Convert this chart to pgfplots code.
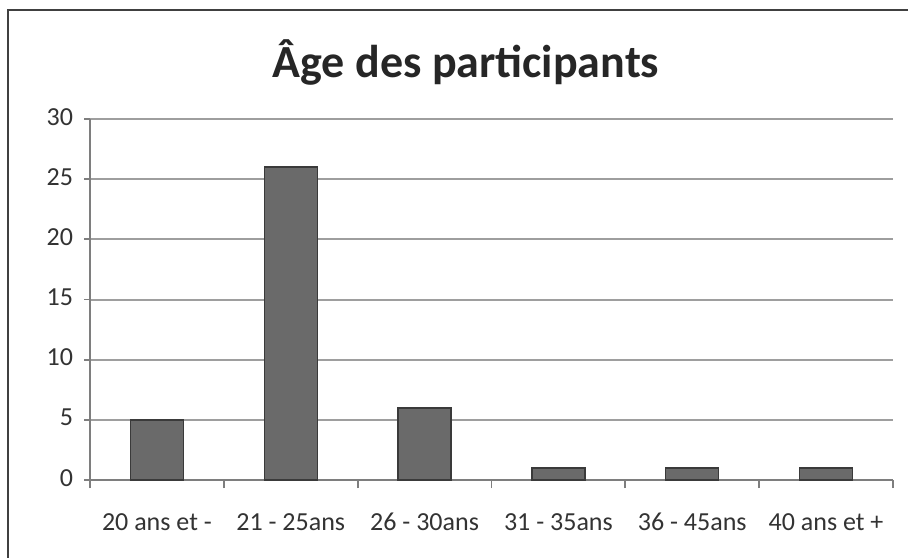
\documentclass[border=0pt]{standalone}
\usepackage{fontspec}
\setmainfont{Carlito}
\usepackage{pgfplots}
\pgfplotsset{compat=1.18}
\definecolor{barfill}{HTML}{6A6A6A}
\definecolor{bardraw}{HTML}{3A3A3A}
\definecolor{gridc}{HTML}{9E9E9E}
\definecolor{txt}{HTML}{333333}
\begin{document}
\begin{tikzpicture}
\useasboundingbox (0,0) rectangle (454pt,278.5pt);
\fill[white] (0,0) rectangle (454pt,278.5pt);
\draw[line width=1pt,color=black!75] (460pt,273.5pt) -- (4pt,273.5pt) -- (4pt,-5pt);
\node[font=\fontsize{23}{26}\selectfont\bfseries,text=black!85] at (233pt,247.5pt) {Âge des participants};
\begin{axis}[
  at={(45pt,38.5pt)}, anchor=south west,
  scale only axis, width=401.5pt, height=180.5pt,
  xmin=-0.5, xmax=5.5, ymin=0, ymax=30,
  axis x line=bottom, axis y line=left,
  axis line style={-, color=gridc!80!black, line width=0.9pt},
  xtick={0,1,2,3,4,5},
  xticklabels={20 ans et -, 21 - 25ans, 26 - 30ans, 31 - 35ans, 36 - 45ans, 40 ans et +},
  major x tick style={draw=none},
  minor xtick={-0.5,0.5,1.5,2.5,3.5,4.5,5.5},
  minor x tick style={color=gridc!80!black, line width=0.9pt},
  minor tick length=4pt,
  ytick={0,5,...,30},
  major tick length=3pt,
  y tick style={color=gridc!80!black, line width=0.9pt},
  tick align=outside,
  ymajorgrids,
  grid style={color=gridc, line width=1pt},
  typeset ticklabels with strut,
  xticklabel style={font=\fontsize{13}{15}\selectfont, text=txt, yshift=-8pt},
  yticklabel style={font=\fontsize{13}{15}\selectfont, text=txt, xshift=-2pt},
  /pgf/number format/assume math mode=true,
  clip=false,
]
\addplot[ybar, bar width=26.5pt, fill=barfill, draw=bardraw, line width=0.7pt]
  coordinates {(0,5) (1,26) (2,6) (3,1) (4,1) (5,1)};
\end{axis}
\end{tikzpicture}
\end{document}
